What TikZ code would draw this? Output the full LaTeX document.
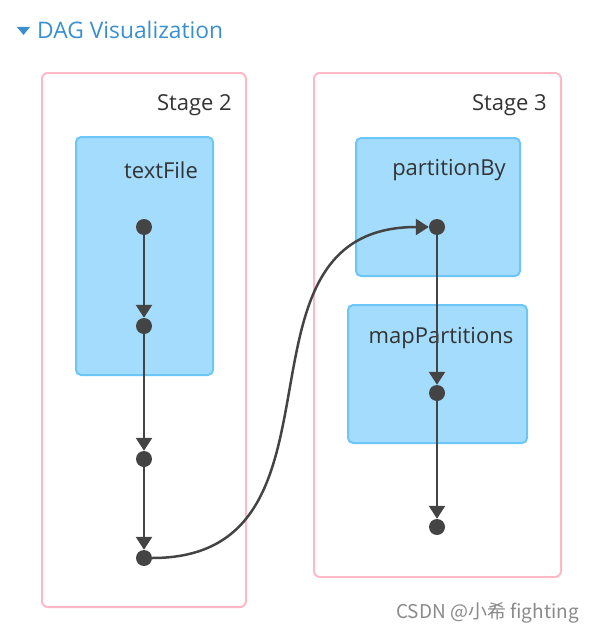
\documentclass[tikz,border=0pt]{standalone}
\usepackage{fontspec}
\setmainfont{Open Sans}
\newfontfamily\cjkfont{Noto Sans CJK SC}
\usetikzlibrary{arrows.meta}
\definecolor{titleblue}{HTML}{3A8FD0}
\definecolor{stagepink}{HTML}{FFB8C6}
\definecolor{opfill}{HTML}{A3DCFC}
\definecolor{opborder}{HTML}{6CC6F6}
\definecolor{dagdark}{HTML}{444444}
\definecolor{wmgray}{HTML}{8A8A8A}
\tikzset{
  stagebox/.style={draw=stagepink, line width=2pt, rounded corners=6pt},
  opbox/.style={draw=opborder, fill=opfill, line width=2pt, rounded corners=5pt},
  lbl/.style={font=\fontsize{22}{24}\selectfont, text=black!80, inner sep=0pt},
  dot/.style={circle, fill=dagdark, inner sep=0pt, minimum size=16pt},
  arr/.style={draw=dagdark, line width=2.5pt, -{Triangle[width=16pt,length=13pt]}},
}
\begin{document}
\begin{tikzpicture}[x=1pt,y=-1pt]
\useasboundingbox (0,0) rectangle (594,634);
% title
\fill[titleblue] (17,27) -- (30,27) -- (23.5,35) -- cycle;
\node[anchor=west, inner sep=0pt, text=titleblue, font=\fontsize{22.8}{24}\selectfont] (title) at (37,30) {DAG Visualization};
% stages
\draw[stagebox] (42,73) rectangle (246,607);
\draw[stagebox] (314,73) rectangle (561,577);
\node[lbl, anchor=east] (s2) at (232,105) {Stage 2};
\node[lbl, anchor=east] (s3) at (547,105) {Stage 3};
% operation boxes
\draw[opbox] (76,137) rectangle (213,375);
\draw[opbox] (356,138) rectangle (520,276);
\draw[opbox] (348,305) rectangle (527,443);
\node[lbl] (tf) at (161,170) {textFile};
\node[lbl] (pb) at (449,170) {partitionBy};
\node[lbl] (mp) at (441,338) {mapPartitions};
% dots
\node[dot] (l1) at (144,227) {};
\node[dot] (l2) at (144,326) {};
\node[dot] (l3) at (144,459) {};
\node[dot] (l4) at (144,558) {};
\node[dot] (r1) at (437,227) {};
\node[dot] (r2) at (437,393) {};
\node[dot] (r3) at (437,527) {};
% edges
\draw[arr] (l1) -- (l2);
\draw[arr] (l2) -- (l3);
\draw[arr] (l3) -- (l4);
\draw[arr] (r1) -- (r2);
\draw[arr] (r2) -- (r3);
\draw[arr] (l4.east) .. controls +(212,0) and +(-212,0) .. (r1.west);
% watermark
\node[anchor=east, inner sep=0pt, text=wmgray, font=\cjkfont\fontsize{19}{21}\selectfont] (wm) at (579,613) {CSDN @小希 fighting};
\end{tikzpicture}
\end{document}
